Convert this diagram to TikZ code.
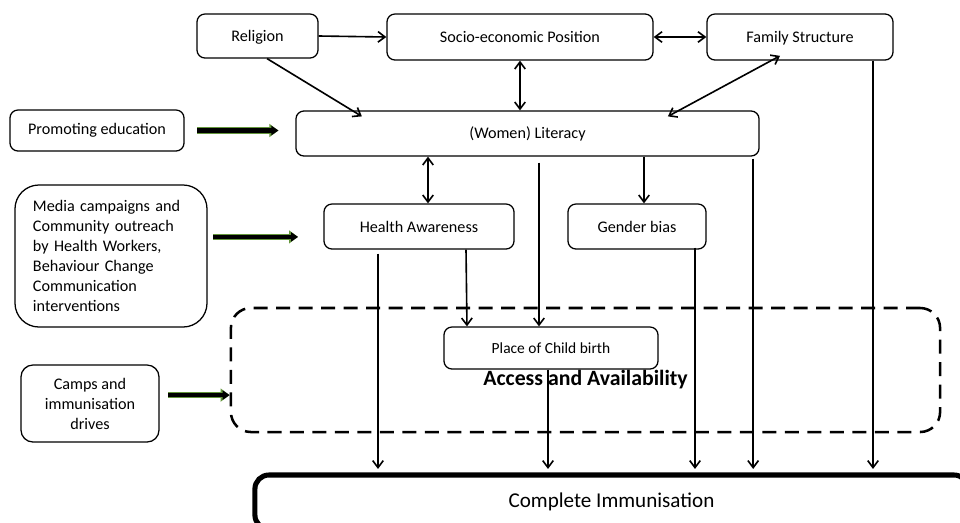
\documentclass[tikz,border=0pt]{standalone}
\usepackage{fontspec}
\setmainfont{Carlito}
\usetikzlibrary{arrows.meta}
\definecolor{arrowgreen}{RGB}{100,150,60}
\begin{document}
\begin{tikzpicture}[x=0.025cm, y=-0.025cm,
      >={Straight Barb[length=5pt,width=7.5pt]},
      every node/.style={align=center},
      box/.style={draw, line width=0.9pt, rounded corners=0.2cm, font=\fontsize{11.5}{13}\selectfont},
      topbox/.style={box, minimum height=1.15cm, text height=2ex, text depth=0.45ex},
      link/.style={line width=1.15pt},
      tocomplete/.style={link, ->, shorten >=2.5pt},
      bigarrow/.style={line width=3pt, -{Triangle[length=5pt,width=6.5pt]},
        preaction={draw=arrowgreen, line width=4.6pt, -{Triangle[length=6.4pt,width=9pt]}}},]
  \useasboundingbox (0,0) rectangle (960,522);

  \node[topbox, minimum width=3.025cm, minimum height=1.1cm] (rel) at (257.5,36) {Religion};
  \node[topbox, minimum width=6.65cm] (soc) at (520,37) {Socio-economic Position};
  \node[topbox, minimum width=4.65cm] (fam) at (800,37) {Family Structure};
  \node[box, minimum width=11.575cm, minimum height=1.125cm] (lit) at (527.5,133.5) {(Women) Literacy};
  \node[box, minimum width=4.35cm, minimum height=1.025cm] (promo) at (97,130.5) {Promoting education};
  \node[box, rounded corners=0.6cm, minimum width=4.8cm, minimum height=3.55cm, text width=3.9cm,
        align=left, font=\fontsize{11.5}{14.2}\selectfont] (media) at (111,256)
        {Media campaigns and\\Community outreach\\by Health Workers,\\Behaviour Change\\Communication\\interventions};
  \node[box, minimum width=4.75cm, minimum height=1.125cm] (ha) at (419,226.5) {Health Awareness};
  \node[box, minimum width=3.45cm, minimum height=1.125cm] (gb) at (637,226.5) {Gender bias};
  \node[draw, line width=1.8pt, dash pattern=on 10pt off 6pt, rounded corners=0.5cm,
        minimum width=17.725cm, minimum height=3.1cm] (aa) at (585.5,370) {};
  \node[box, minimum width=5.35cm, minimum height=1.05cm, font=\fontsize{11}{13}\selectfont] (pcb) at (551,348) {Place of Child birth};
  \node[font=\fontsize{15.5}{18}\selectfont\bfseries] (aalabel) at (585.5,380) {Access and Availability};
  \node[box, rounded corners=0.3cm, minimum width=3.45cm, minimum height=1.925cm,
        font=\fontsize{11.5}{14.2}\selectfont] (camps) at (90,403.5) {Camps and\\immunisation\\drives};
  \node[draw, line width=3.6pt, rounded corners=0.35cm, minimum width=17.825cm, minimum height=1.35cm,
        font=\fontsize{15}{18}\selectfont] (ci) at (611.5,502) {Complete Immunisation};

  \coordinate (famdrop) at ([xshift=1.825cm]fam.south);
  \coordinate (litdrop) at ([xshift=5.64cm,yshift=-0.05cm]lit.south);
  \coordinate (hadrop) at ([xshift=-1.025cm,yshift=-0.1cm]ha.south);
  \coordinate (gbdrop) at ([xshift=1.45cm,yshift=0.05cm]gb.south);
  \coordinate (pcbdrop) at ([xshift=-0.075cm]pcb.south);
  \coordinate (hatop) at ([xshift=0.225cm]ha.north);
  \coordinate (gbtop) at ([xshift=0.175cm]gb.north);
  \coordinate (pcbtop) at ([xshift=-0.3cm]pcb.north);
  \coordinate (litgap) at ([yshift=-0.15cm]lit.south);
  \coordinate (medtip) at ([yshift=-0.26cm]ha.west);
  \coordinate (campsout) at ([yshift=0.21cm]camps.east);

  \draw[link,->] (rel.east) -- (soc.west);
  \draw[link,<->] (soc.east) -- (fam.west);
  \draw[link,->] ([xshift=0.24cm]rel.south) -- ([xshift=-4.14cm,yshift=-0.15cm]lit.north);
  \draw[link,<->] (soc.south) -- (soc.south |- lit.north);
  \draw[link,<->] ([xshift=-0.5cm,yshift=0.12cm]fam.south) -- ([xshift=3.51cm,yshift=-0.15cm]lit.north);
  \draw[link,<->] (hatop |- lit.south) -- (hatop);
  \draw[link,->] (gbtop |- lit.south) -- (gbtop);
  \draw[link,->] (pcbtop |- litgap) -- (pcbtop);
  \draw[link,->] ([xshift=1.175cm]ha.south) -- ([xshift=-2.1cm]pcb.north);
  \draw[tocomplete] (famdrop) -- (famdrop |- ci.north);
  \draw[tocomplete] (litdrop) -- (litdrop |- ci.north);
  \draw[tocomplete] (hadrop) -- (hadrop |- ci.north);
  \draw[tocomplete] (gbdrop) -- (gbdrop |- ci.north);
  \draw[tocomplete] (pcbdrop) -- (pcbdrop |- ci.north);

  \draw[bigarrow, shorten <=9pt, shorten >=12pt] (promo.east) -- (promo.east -| lit.west);
  \draw[bigarrow, shorten <=4pt, shorten >=18pt] (medtip -| media.east) -- (medtip);
  \draw[bigarrow, shorten <=6pt] (campsout) -- (campsout -| aa.west);
\end{tikzpicture}
\end{document}
